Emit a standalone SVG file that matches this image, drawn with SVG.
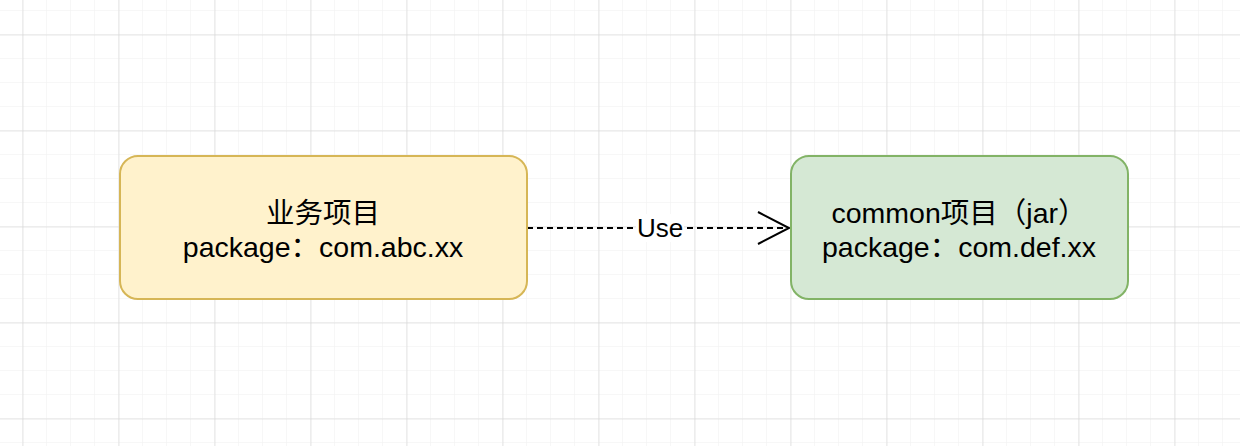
<svg xmlns="http://www.w3.org/2000/svg" width="1240" height="446" viewBox="0 0 1240 446">
<defs>
<pattern id="minor" x="-2" y="10" width="24" height="24" patternUnits="userSpaceOnUse"><path d="M24 0H0V24" fill="none" stroke="#efefef" stroke-width="1"/></pattern>
<pattern id="major" x="22.5" y="34.5" width="96" height="96" patternUnits="userSpaceOnUse"><path d="M96 0H0V96" fill="none" stroke="#d0d0d0" stroke-width="1"/></pattern>
</defs>
<style>
text{font-family:"Liberation Sans","Noto Sans CJK SC",sans-serif;font-size:28.5px;fill:#000;text-anchor:middle}
</style>
<rect width="1240" height="446" fill="#fff"/>
<rect width="1240" height="446" fill="url(#minor)"/>
<rect width="1240" height="446" fill="url(#major)"/>
<g id="connectors">
<line x1="527" y1="228" x2="789" y2="228" stroke="#000" stroke-width="2" stroke-dasharray="6 4"/>
<polyline points="758,212 789,228 758,244" fill="none" stroke="#000" stroke-width="2"/>
<rect x="636" y="214" width="48" height="28" fill="#fff"/>
<text x="660" y="237" style="font-size:26px">Use</text>
</g>
<g id="biz">
<rect x="120" y="156" width="407" height="143" rx="18" fill="#fff2cc" stroke="#d6b656" stroke-width="2"/>
<text x="323" y="223">业务项目</text>
<text x="323" y="257">package：com.abc.xx</text>
</g>
<g id="common">
<rect x="791" y="156" width="337" height="143" rx="18" fill="#d5e8d4" stroke="#82b366" stroke-width="2"/>
<text x="959" y="223">common项目（jar）</text>
<text x="959" y="257">package：com.def.xx</text>
</g>
</svg>
